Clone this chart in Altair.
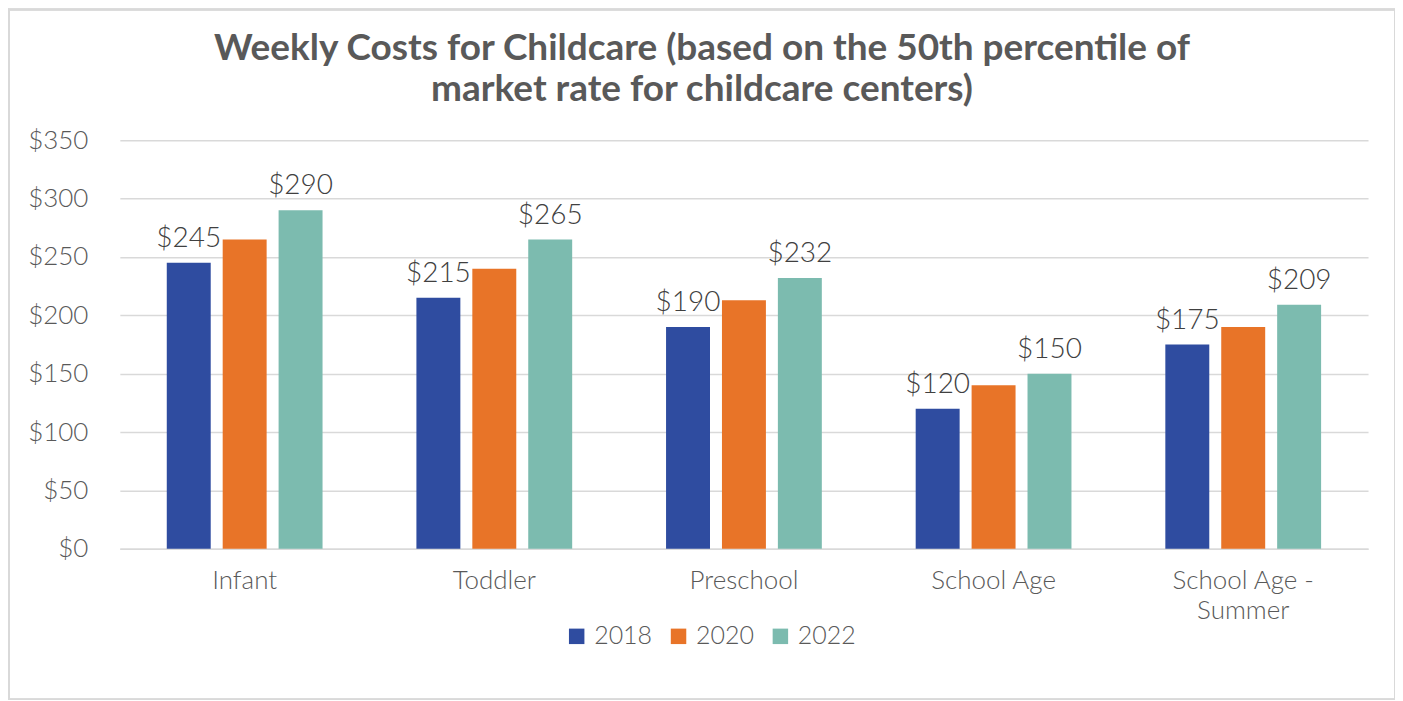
import altair as alt
import pandas as pd

categories = ["Infant", "Toddler", "Preschool", "School Age", "School Age - Summer"]
years = ["2018", "2020", "2022"]
v2018 = [245, 215, 190, 120, 175]
v2020 = [265, 240, 213, 140, 190]
v2022 = [290, 265, 232, 150, 209]
labeled_years = ["2018", "2022"]
colors = ["#2F4CA0", "#E87428", "#7CBBAF"]

rows = []
for i, c in enumerate(categories):
    for y, vals in zip(years, [v2018, v2020, v2022]):
        rows.append({"category": c, "year": y, "value": vals[i],
                     "label": f"${vals[i]}" if y in labeled_years else ""})
df = pd.DataFrame(rows)

FONT = "Lato"
TXT = "#595959"

x = alt.X("category:N", sort=categories, title=None,
          scale=alt.Scale(paddingInner=0.376, paddingOuter=0.188),
          axis=alt.Axis(labelAngle=0, labelFontSize=26, labelColor=TXT, labelFont=FONT,
                        labelFontWeight=300,
                        ticks=False, domainColor="#d9d9d9", domainWidth=1.5,
                        labelPadding=19, labelLineHeight=30,
                        labelExpr="datum.label == 'School Age - Summer' ? ['School Age -', 'Summer'] : datum.label"))
xo = alt.XOffset("year:N", sort=years, scale=alt.Scale(paddingInner=0.214))

bars = alt.Chart(df).mark_bar().encode(
    x=x, xOffset=xo,
    y=alt.Y("value:Q", title=None,
            scale=alt.Scale(domain=[0, 350]),
            axis=alt.Axis(values=[0, 50, 100, 150, 200, 250, 300, 350], format="$,d",
                          labelFontSize=26, labelColor=TXT, labelFont=FONT,
                          labelFontWeight=300,
                          ticks=False, domain=False, gridColor="#d9d9d9", gridWidth=1.5,
                          labelPadding=32)),
    color=alt.Color("year:N", sort=years,
                    scale=alt.Scale(domain=years, range=colors),
                    legend=alt.Legend(title=None, orient="none", direction="horizontal",
                                      legendX=445, legendY=484, symbolType="square",
                                      symbolSize=240, symbolStrokeWidth=0,
                                      labelFontSize=25, labelColor=TXT, labelFont=FONT,
                                      labelFontWeight=300,
                                      columnPadding=13, labelOffset=5)),
)

labels = alt.Chart(df).mark_text(baseline="bottom", dy=-10, fontSize=28, font=FONT,
                                 fontWeight=300, color="#404040").encode(
    x=x, xOffset=xo, y="value:Q", text="label:N")

frame = alt.Chart(df).mark_rect(fill=None, stroke="#d9d9d9", strokeWidth=1.5, clip=False).encode(
    x=alt.value(-111), x2=alt.value(1277), y=alt.value(-131), y2=alt.value(560))

chart = alt.layer(frame, bars, labels).properties(
    width=1250, height=409,
    background="white",
    padding={"left": 112, "top": 132, "right": 27, "bottom": 151},
    autosize=alt.AutoSizeParams(type="none"),
    title=alt.TitleParams(
        ["Weekly Costs for Childcare (based on the 50th percentile of",
         "market rate for childcare centers)"],
        fontSize=37, font=FONT, fontWeight="bold", color=TXT, anchor="middle",
        frame="group", dx=-42, offset=-100, lineHeight=41),
).configure_view(strokeWidth=0, stroke="transparent")

chart.save("out.html", embed_options={"renderer": "svg", "actions": False})
